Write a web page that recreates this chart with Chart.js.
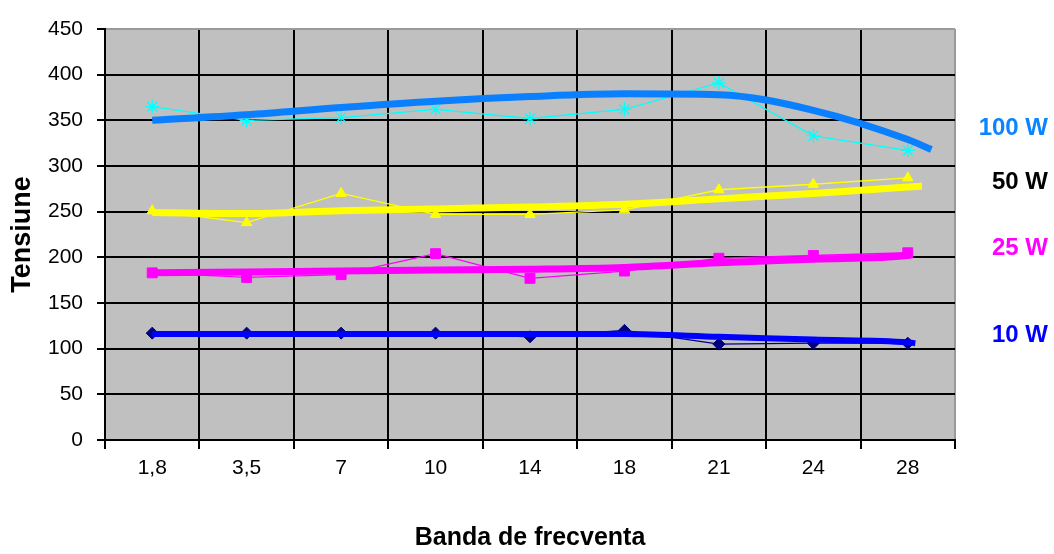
<!DOCTYPE html>
<html>
<head>
<meta charset="utf-8">
<script src="https://cdn.jsdelivr.net/npm/chart.js@4"></script>
<style>
  html, body { margin: 0; background: #fff; }
  #wrap { width: 1054px; height: 554px; }
</style>
</head>
<body>
<div id="wrap"><canvas id="c"></canvas></div>
<script>
/* Benzi de frecventa (MHz) pe axa X */
const bands = ['1,8', '3,5', '7', '10', '14', '18', '21', '24', '28'];

/* Masuratori (tensiune) pentru fiecare putere */
const v100 = [365, 350, 353, 362, 352, 362, 391, 333, 317];
const v50  = [251, 238, 270, 247, 247, 252, 274, 280, 287];
const v25  = [183, 178, 181, 204, 177, 185, 199, 202, 205];
const v10  = [117, 117, 117, 117, 113, 120, 105, 106, 106];

/* Liniile de tendinta, citite din grafic in dreptul fiecarei benzi,
 * plus capatul din dreapta (pozitie pe axa, valoare). */
const trendPos = [0, 1, 2, 3, 4, 5, 6, 7, 8];
const t100 = [350, 356, 364, 371, 376, 379, 378, 361, 329];
const t50  = [249, 248, 251, 253, 255, 258, 264, 270, 277];
const t25  = [183, 184, 185, 186, 187, 189, 194, 198, 202];
const t10  = [116, 116, 116, 116, 116, 116, 113, 110, 107];
const t100End = [8.25, 318];
const t50End  = [8.15, 278];
const t25End  = [8.05, 203];
const t10End  = [8.08, 106];

const yTicks = [0, 50, 100, 150, 200, 250, 300, 350, 400, 450];

const sideLabels = ['100 W', '50 W', '25 W', '10 W'];
const sideColors = ['#0a84ff', '#000000', '#ff00ff', '#0000ff'];

const TICK_FONT = { family: "'Liberation Sans', Arial, sans-serif", size: 21 };
const XTITLE_FONT = { family: "'Liberation Sans', Arial, sans-serif", size: 25, weight: 'bold' };
const YTITLE_FONT = { family: "'Liberation Sans', Arial, sans-serif", size: 27, weight: 'bold' };

function trendPoints(vals, end) {
  const pts = trendPos.map((x, i) => ({ x, y: vals[i] }));
  pts.push({ x: end[0], y: end[1] });
  return pts;
}

function trend(vals, end, color, width) {
  return {
    data: trendPoints(vals, end),
    xAxisID: 'xt',
    borderColor: color,
    borderWidth: width,
    pointRadius: 0,
    tension: 0.4,
    cubicInterpolationMode: 'monotone',
    fill: false,
    order: 0,
  };
}

function series(vals, color, style, radius) {
  return {
    data: vals,
    xAxisID: 'x',
    borderColor: color,
    backgroundColor: color,
    borderWidth: 1.3,
    pointStyle: style,
    pointRadius: radius,
    pointBorderWidth: style === 'star' ? 1.3 : 1,
    pointBackgroundColor: color,
    pointBorderColor: color,
    tension: 0,
    fill: false,
    order: 1,
  };
}

/* fundal gri al zonei de desenare */
const plotBg = {
  id: 'plotBg',
  beforeDraw(chart) {
    const { ctx, chartArea: a } = chart;
    ctx.save();
    ctx.fillStyle = '#c0c0c0';
    ctx.fillRect(a.left, a.top, a.right - a.left, a.bottom - a.top);
    ctx.restore();
  },
};

/* etichetele puterilor din dreapta */
const sideText = {
  id: 'sideText',
  afterDraw(chart) {
    const { ctx } = chart;
    const ys = [128, 182, 248, 335];
    ctx.save();
    ctx.font = "bold 24px 'Liberation Sans', Arial, sans-serif";
    ctx.textAlign = 'right';
    ctx.textBaseline = 'middle';
    sideLabels.forEach((t, i) => {
      ctx.fillStyle = sideColors[i];
      ctx.fillText(t, 1048, ys[i]);
    });
    ctx.restore();
  },
};

new Chart(document.getElementById('c'), {
  type: 'line',
  data: {
    labels: bands,
    datasets: [
      trend(t100, t100End, '#0a80ff', 7),
      trend(t50,  t50End,  '#ffff00', 7),
      trend(t25,  t25End,  '#ff00ff', 7),
      trend(t10,  t10End,  '#0000ff', 6),
      series(v100, '#00ffff', 'star', 7),
      series(v50,  '#ffff00', 'triangle', 6),
      series(v25,  '#ff00ff', 'rect', 7),
      series(v10,  '#000080', 'rectRot', 6),
    ],
  },
  options: {
    responsive: true, maintainAspectRatio: false,
    animation: false,
    layout: { padding: { top: 29, right: 99, left: 0, bottom: 0 } },
    plugins: {
      legend: { display: false },
      tooltip: { enabled: false },
    },
    scales: {
      x: {
        type: 'category',
        offset: true,
        afterFit: (s) => { s.height = 114; },
        grid: {
          offset: true,
          color: (c) => c.type === 'tick' ? '#000' : '#9a9a9a',
          lineWidth: 2,
          drawTicks: true, tickLength: 9, tickColor: '#000', tickWidth: 2,
        },
        border: { color: '#000', width: 2 },
        ticks: { color: '#000', font: TICK_FONT, padding: 7, maxRotation: 0, autoSkip: false },
        title: {
          display: true, text: 'Banda de frecventa', color: '#000',
          font: XTITLE_FONT, padding: { top: 0, bottom: 1 },
        },
      },
      xt: {
        type: 'linear', display: false,
        min: -0.5, max: 8.5,
      },
      y: {
        min: 0, max: 450,
        afterFit: (s) => { s.width = 105; },
        afterBuildTicks: (s) => { s.ticks = yTicks.map(v => ({ value: v })); },
        grid: {
          color: (c) => c.tick && c.tick.value === 450 ? '#9a9a9a' : '#000',
          lineWidth: 2,
          drawTicks: true, tickLength: 8, tickColor: '#000', tickWidth: 2,
        },
        border: { color: '#000', width: 2 },
        ticks: { color: '#000', font: TICK_FONT, padding: 14 },
        title: {
          display: true, text: 'Tensiune', color: '#000',
          font: YTITLE_FONT, padding: { top: 6, bottom: 0 },
        },
      },
    },
  },
  plugins: [plotBg, sideText],
});
</script>
</body>
</html>
